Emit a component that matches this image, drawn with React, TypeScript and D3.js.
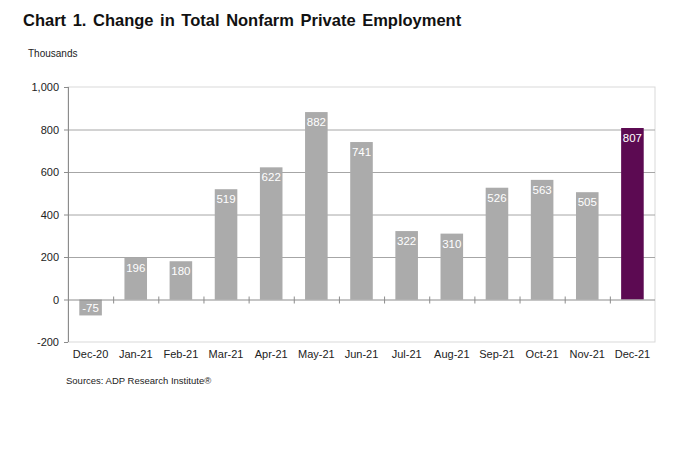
import React, { useEffect, useRef } from 'react';
import * as d3 from 'd3';

const months = ['Dec-20', 'Jan-21', 'Feb-21', 'Mar-21', 'Apr-21', 'May-21', 'Jun-21', 'Jul-21', 'Aug-21', 'Sep-21', 'Oct-21', 'Nov-21', 'Dec-21'];
const changes = [-75, 196, 180, 519, 622, 882, 741, 322, 310, 526, 563, 505, 807];
const yTicks = [-200, 0, 200, 400, 600, 800, 1000];

const W = 696;
const H = 453;
const FONT = 'Liberation Sans, Arial, sans-serif';

// plain hyphen for negatives, like the original
const fmt = (v: number) => d3.format(',')(v).replace('\u2212', '-');

const App: React.FC = () => {
  const svgRef = useRef<SVGSVGElement>(null);

  useEffect(() => {
    if (!svgRef.current) return;
    const svg = d3.select(svgRef.current);
    svg.selectAll('*').remove();

    const left = 68, right = 655, top = 87, bottom = 342;

    const x = d3.scaleBand<string>().domain(months).range([left, right]).paddingInner(0.5).paddingOuter(0.25);
    const xb = d3.scaleBand<string>().domain(months).range([left, right]);
    const y = d3.scaleLinear().domain([-200, 1000]).range([bottom, top]);

    svg.append('rect').attr('width', W).attr('height', H).attr('fill', '#fff');

    // title
    svg.append('text')
      .attr('x', 23).attr('y', 26)
      .attr('font-family', FONT).attr('font-weight', 'bold').attr('font-size', 16.5)
      .attr('fill', '#111')
      .attr('word-spacing', 2)
      .text('Chart 1. Change in Total Nonfarm Private Employment');

    svg.append('text')
      .attr('x', 28).attr('y', 57)
      .attr('font-family', FONT).attr('font-size', 10).attr('fill', '#222')
      .text('Thousands');

    // plot border (light)
    svg.append('rect')
      .attr('x', left).attr('y', top)
      .attr('width', right - left).attr('height', bottom - top)
      .attr('fill', 'none').attr('stroke', '#d9d9d9').attr('stroke-width', 1);

    // gridlines
    svg.append('g').selectAll('line')
      .data(yTicks.filter(t => t !== -200 && t !== 1000 && t !== 0))
      .enter().append('line')
      .attr('x1', left).attr('x2', right)
      .attr('y1', d => y(d) + 0.5).attr('y2', d => y(d) + 0.5)
      .attr('stroke', '#a6a6a6').attr('stroke-width', 1);

    // bars
    svg.append('g').selectAll('rect')
      .data(changes)
      .enter().append('rect')
      .attr('x', (d, i) => x(months[i])!)
      .attr('width', x.bandwidth())
      .attr('y', d => y(Math.max(0, d)))
      .attr('height', d => Math.abs(y(d) - y(0)))
      .attr('fill', (d, i) => (i === months.length - 1 ? '#5c0a52' : '#ababab'));

    // bar labels
    svg.append('g').selectAll('text')
      .data(changes)
      .enter().append('text')
      .attr('x', (d, i) => x(months[i])! + x.bandwidth() / 2)
      .attr('y', d => (d >= 0 ? y(d) + 14 : y(d) - 3))
      .attr('text-anchor', 'middle')
      .attr('font-family', FONT).attr('font-size', 11.5)
      .attr('fill', '#fff')
      .text(d => fmt(d));

    // left axis
    svg.append('line')
      .attr('x1', left + 0.5).attr('x2', left + 0.5)
      .attr('y1', top).attr('y2', bottom)
      .attr('stroke', '#8c8c8c');
    svg.append('g').selectAll('line')
      .data(yTicks).enter().append('line')
      .attr('x1', left - 4).attr('x2', left)
      .attr('y1', d => y(d) + 0.5).attr('y2', d => y(d) + 0.5)
      .attr('stroke', '#8c8c8c');
    svg.append('g').selectAll('text')
      .data(yTicks).enter().append('text')
      .attr('x', left - 9).attr('y', d => y(d) + 4)
      .attr('text-anchor', 'end')
      .attr('font-family', FONT).attr('font-size', 11).attr('fill', '#222')
      .text(d => fmt(d));

    // zero axis with crossing ticks
    svg.append('line')
      .attr('x1', left).attr('x2', right)
      .attr('y1', y(0) + 0.5).attr('y2', y(0) + 0.5)
      .attr('stroke', '#8c8c8c');
    svg.append('g').selectAll('line')
      .data(months.slice(1)).enter().append('line')
      .attr('x1', d => xb(d)! + 0.5).attr('x2', d => xb(d)! + 0.5)
      .attr('y1', y(0) - 3).attr('y2', y(0) + 4)
      .attr('stroke', '#8c8c8c');

    // x labels
    svg.append('g').selectAll('text')
      .data(months).enter().append('text')
      .attr('x', d => xb(d)! + xb.bandwidth() / 2)
      .attr('y', bottom + 16)
      .attr('text-anchor', 'middle')
      .attr('font-family', FONT).attr('font-size', 11).attr('fill', '#222')
      .text(d => d);

    svg.append('text')
      .attr('x', 66).attr('y', 384)
      .attr('font-family', FONT).attr('font-size', 9.5).attr('fill', '#222')
      .text('Sources: ADP Research Institute®');
  }, []);

  return (
    <div style={{ position: 'absolute', left: 0, top: 0, width: W, height: H }}>
      <svg ref={svgRef} width={W} height={H} style={{ display: 'block' }} />
    </div>
  );
};

export default App;
